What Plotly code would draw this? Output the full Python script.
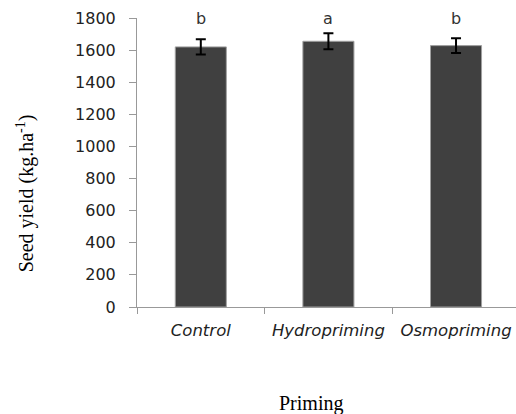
import plotly.graph_objects as go

categories = ["Control", "Hydropriming", "Osmopriming"]
seed_yield = [1620, 1655, 1628]
std_err = [48, 50, 46]
letters = ["b", "a", "b"]
y_ticks = [0, 200, 400, 600, 800, 1000, 1200, 1400, 1600, 1800]

fig = go.Figure()
fig.add_trace(go.Bar(
    x=categories, y=seed_yield,
    marker=dict(color="#404040", line=dict(color="#a0a0a0", width=1)),
    error_y=dict(type="data", array=std_err, color="black", thickness=2, width=5),
    width=0.4,
))

for c, v, l in zip(categories, seed_yield, letters):
    fig.add_annotation(x=c, y=1800, text=l, showarrow=False, yanchor="middle",
                       font=dict(family="DejaVu Sans, sans-serif", size=16, color="#333"))

fig.add_annotation(xref="paper", yref="paper", x=-0.295, y=0.394, text="Seed yield (kg.ha<sup>-1</sup>)",
                   textangle=-90, showarrow=False, xanchor="center", yanchor="middle",
                   font=dict(family="Liberation Serif, serif", size=20, color="black"))
fig.add_annotation(xref="paper", yref="paper", x=0.459, y=-0.335, text="Priming",
                   showarrow=False, xanchor="center", yanchor="middle",
                   font=dict(family="Liberation Serif, serif", size=20, color="black"))

fig.update_layout(
    width=516, height=414,
    margin=dict(l=137, r=0, t=18, b=107),
    plot_bgcolor="white", paper_bgcolor="white",
    showlegend=False,
    xaxis=dict(range=[-0.5, 2.47], tickson="boundaries", ticks="outside", ticklen=6,
               tickcolor="#999", showline=True, linecolor="#999", linewidth=1,
               ticklabelstandoff=8,
               tickfont=dict(family="DejaVu Sans, sans-serif", size=16.5, color="#222", style="italic"),
               showgrid=False),
    yaxis=dict(range=[0, 1800], tickvals=y_ticks, ticks="outside", ticklen=7, tickcolor="#999",
               showline=True, linecolor="#999", linewidth=1, showgrid=False, zeroline=False,
               ticklabelstandoff=10,
               tickfont=dict(family="DejaVu Sans, sans-serif", size=16, color="#222")),
)

fig.write_html("out.html", config={"displayModeBar": False},
               post_script="document.body.style.margin='0px';")
